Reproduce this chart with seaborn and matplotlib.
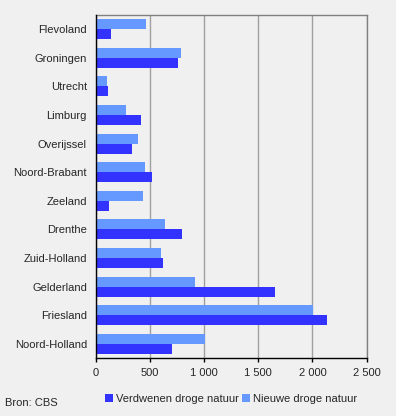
import matplotlib
matplotlib.use("Agg")
import matplotlib.pyplot as plt
from matplotlib.patches import Patch
from matplotlib.ticker import FuncFormatter
import pandas as pd
import seaborn as sns

# data (hectare)
provincies = ["Flevoland", "Groningen", "Utrecht", "Limburg", "Overijssel",
              "Noord-Brabant", "Zeeland", "Drenthe", "Zuid-Holland",
              "Gelderland", "Friesland", "Noord-Holland"]
verdwenen = [135, 758, 111, 416, 333, 517, 120, 795, 619, 1654, 2135, 702]
nieuw = [462, 785, 102, 277, 388, 453, 434, 638, 601, 915, 2005, 1004]

label_verdwenen = "Verdwenen droge natuur"
label_nieuw = "Nieuwe droge natuur"
kleur_verdwenen = "#3333ff"
kleur_nieuw = "#6699ff"

df = pd.DataFrame({
    "provincie": provincies * 2,
    "waarde": nieuw + verdwenen,
    "serie": [label_nieuw] * len(provincies) + [label_verdwenen] * len(provincies),
})

sns.set_style("white")
plt.rcParams["font.family"] = ["Liberation Sans", "DejaVu Sans"]
plt.rcParams["font.size"] = 8

fig = plt.figure(figsize=(3.96, 4.16), dpi=100, facecolor="#f0f0f0")
ax = fig.add_axes([96 / 396, 1 - 358 / 416, 270.5 / 396, 343 / 416])
ax.set_facecolor("#f0f0f0")

# nieuwe bovenaan, verdwenen eronder
sns.barplot(data=df, x="waarde", y="provincie", hue="serie",
            hue_order=[label_nieuw, label_verdwenen],
            palette=[kleur_nieuw, kleur_verdwenen], orient="h",
            width=0.7, saturation=1, legend=False, ax=ax, zorder=3,
            linewidth=0, edgecolor="none")

ax.set_xlim(0, 2500)
ax.set_xticks([0, 500, 1000, 1500, 2000, 2500])
ax.xaxis.set_major_formatter(FuncFormatter(lambda v, p: f"{v:,.0f}".replace(",", " ")))
ax.grid(axis="x", color="#a0a0a0", linewidth=1, zorder=0)
ax.set_axisbelow(True)
ax.set_xlabel("")
ax.set_ylabel("")

for kant in ["top", "right"]:
    ax.spines[kant].set_color("#808080")
    ax.spines[kant].set_linewidth(1)
for kant in ["left", "bottom"]:
    ax.spines[kant].set_color("black")
    ax.spines[kant].set_linewidth(1)
    ax.spines[kant].set_zorder(5)

ax.tick_params(axis="x", length=3, width=1, color="black", pad=4, labelsize=8, bottom=True)
ax.tick_params(axis="y", length=0, pad=6.5, labelsize=8)

# legenda
handles = [Patch(facecolor=kleur_verdwenen, edgecolor="none"),
           Patch(facecolor=kleur_nieuw, edgecolor="none")]
fig.legend(handles, [label_verdwenen, label_nieuw], ncol=2, frameon=False,
           loc="center left", bbox_to_anchor=(95 / 396, 1 - 399 / 416),
           handlelength=0.7, handleheight=0.7, handletextpad=0.3,
           columnspacing=0.3, fontsize=8)

fig.text(5 / 396, 1 - 403 / 416, "Bron: CBS", va="center", ha="left", fontsize=8)

fig.savefig("out.png", dpi=100, facecolor=fig.get_facecolor())
